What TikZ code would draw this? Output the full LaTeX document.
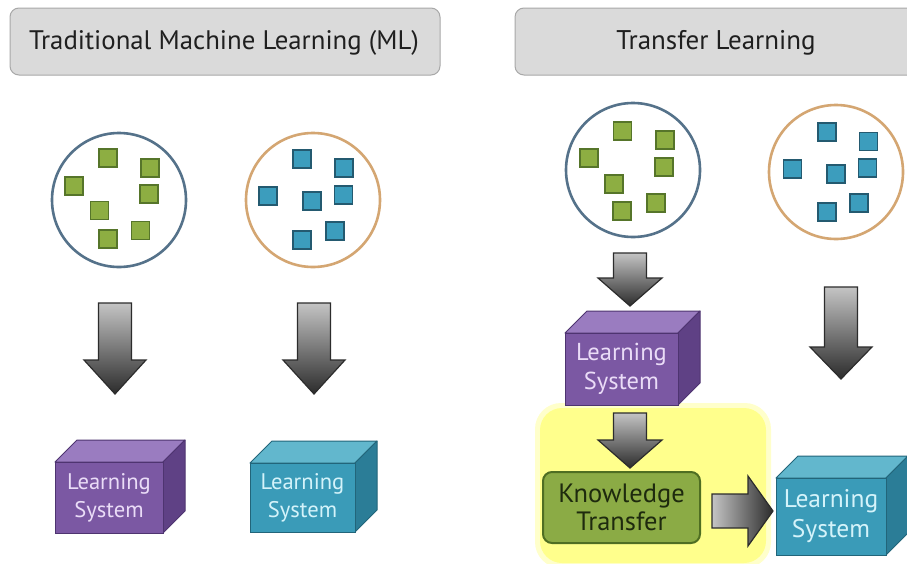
\documentclass[tikz,border=0pt]{standalone}
\usepackage{fontspec}
\setmainfont{PT Sans}
\definecolor{hdrfill}{HTML}{DADADA}
\definecolor{hdrdraw}{HTML}{A8A8A8}
\definecolor{circblue}{HTML}{55728A}
\definecolor{circorange}{HTML}{D4A672}
\definecolor{grfill}{HTML}{8DAE42}
\definecolor{grdraw}{HTML}{56752A}
\definecolor{blfill}{HTML}{3C9DBD}
\definecolor{bldraw}{HTML}{245A70}
\definecolor{purF}{HTML}{7B58A3}
\definecolor{purT}{HTML}{9A7CC0}
\definecolor{purS}{HTML}{5F4185}
\definecolor{purD}{HTML}{4E3470}
\definecolor{purX}{HTML}{EADCF7}
\definecolor{cyaF}{HTML}{3A9BB8}
\definecolor{cyaT}{HTML}{62B7CD}
\definecolor{cyaS}{HTML}{2B7D97}
\definecolor{cyaD}{HTML}{22657A}
\definecolor{cyaX}{HTML}{D4F3FA}
\definecolor{knF}{HTML}{8BAB45}
\definecolor{knD}{HTML}{4F6E22}
\definecolor{knX}{HTML}{1E2A0E}
\definecolor{yelP}{HTML}{FFFF8C}
\definecolor{arrL}{HTML}{C4C4C4}
\definecolor{arrD}{HTML}{2C2C2C}
\newcommand\mycube[9]{%
  % name, x1, y1, x2, y2, colour prefix, font size, baselineskip, text
  \path[fill=#6T, draw=#6D, line width=1pt, line join=round]
    (#2,#3) -- (#2+22,#3-22) -- (#4+22,#3-22) -- (#4,#3) -- cycle;
  \path[fill=#6S, draw=#6D, line width=1pt, line join=round]
    (#4,#3) -- (#4+22,#3-22) -- (#4+22,#5-22) -- (#4,#5) -- cycle;
  \path[fill=#6F, draw=#6D, line width=1pt] (#2,#3) rectangle (#4,#5);
  \node[text=#6X, align=center, font=\fontsize{#7}{#8}\selectfont]
    (#1) at ({(#2+#4)/2},{(#3+#5)/2}) {#9};%
}
\newcommand\dnarr[5]{%
  % cx, top, head start, tip, head half width
  \path[top color=arrL, bottom color=arrD, draw=arrD, line width=1.2pt, line join=miter]
    (#1-16.5,#2) -- (#1+16.5,#2) -- (#1+16.5,#3) -- (#1+#5,#3) -- (#1,#4)
    -- (#1-#5,#3) -- (#1-16.5,#3) -- cycle;%
}
\tikzset{
  hdr/.style={fill=hdrfill, draw=hdrdraw, line width=1pt, rounded corners=9pt},
  hdrtext/.style={text=black!88},
  ring/.style={circle, draw=#1, line width=2.6pt, minimum size=134pt, inner sep=0pt},
  gsq/.style={draw=grdraw, fill=grfill, line width=1.6pt, minimum size=18pt, inner sep=0pt},
  bsq/.style={draw=bldraw, fill=blfill, line width=1.6pt, minimum size=18pt, inner sep=0pt},
}
\begin{document}
\begin{tikzpicture}[x=1pt,y=-1pt]
\clip (0,0) rectangle (907,563);
\fill[white] (0,0) rectangle (907,563);

% headers
\path[hdr] (10,8) rectangle (440,75);
\node[hdrtext, font=\fontsize{26.8}{30}\selectfont] (h1) at (224,43) {Traditional Machine Learning (ML)};
\path[hdr] (515,8) rectangle (930,75);
\node[hdrtext, font=\fontsize{27}{30}\selectfont] (h2) at (716,43) {Transfer Learning};

% circles
\node[ring=circblue] (c1) at (119,200) {};
\node[ring=circorange] (c2) at (313,200) {};
\node[ring=circblue] (c3) at (633,170) {};
\node[ring=circorange] (c4) at (836,172) {};

% squares
\foreach \x/\y [count=\i] in {108/158,150/168,74/186,149/194,99.5/210.5,140.5/230.5,108/239}
  \node[gsq] (ga\i) at (\x,\y) {};
\foreach \x/\y [count=\i] in {302/159,344/168,268/196,312/201,343.5/195,335/231,302/240}
  \node[bsq] (ba\i) at (\x,\y) {};
\foreach \x/\y [count=\i] in {622.5/131,665/140,589/158,664/167,614/184,656/203,622/211}
  \node[gsq] (gb\i) at (\x,\y) {};
\foreach \x/\y [count=\i] in {827/132,868.5/141.5,792.5/169,836/174,867.5/167.7,859/203,827/212}
  \node[bsq] (bb\i) at (\x,\y) {};

% yellow panel
\fill[yelP!45, rounded corners=26pt] (535,403) rectangle (771,568);
\fill[yelP, rounded corners=22pt] (540,408) rectangle (766,563);

% down arrows
\dnarr{115}{303}{360}{394}{31}
\dnarr{314}{303}{360}{394}{31}
\dnarr{630}{253}{278}{306}{32}
\dnarr{630}{413}{440}{468}{32}
\dnarr{841}{287}{347}{379}{31}

% right arrow
\path[left color=arrL, right color=arrD, draw=arrD, line width=1.2pt, line join=miter]
  (712,494) -- (748,494) -- (748,476) -- (773,511) -- (748,546) -- (748,528)
  -- (712,528) -- cycle;

% learning system cubes
\mycube{ls1}{55}{462}{163}{533}{pur}{22.6}{28}{Learning\\System}
\mycube{ls2}{250}{463}{355}{532}{cya}{22.6}{28}{Learning\\System}
\mycube{ls3}{565}{333}{678}{405}{pur}{24.5}{29}{Learning\\System}
\mycube{ls4}{776}{478}{886}{555}{cya}{25.5}{30}{Learning\\System}

% knowledge transfer
\node[draw=knD, fill=knF, line width=2pt, rounded corners=9pt,
      minimum width=157pt, minimum height=71pt, align=center, text=knX,
      font=\fontsize{26.5}{28}\selectfont] (kt) at (621.5,507.5) {Knowledge\\Transfer};
\end{tikzpicture}
\end{document}
